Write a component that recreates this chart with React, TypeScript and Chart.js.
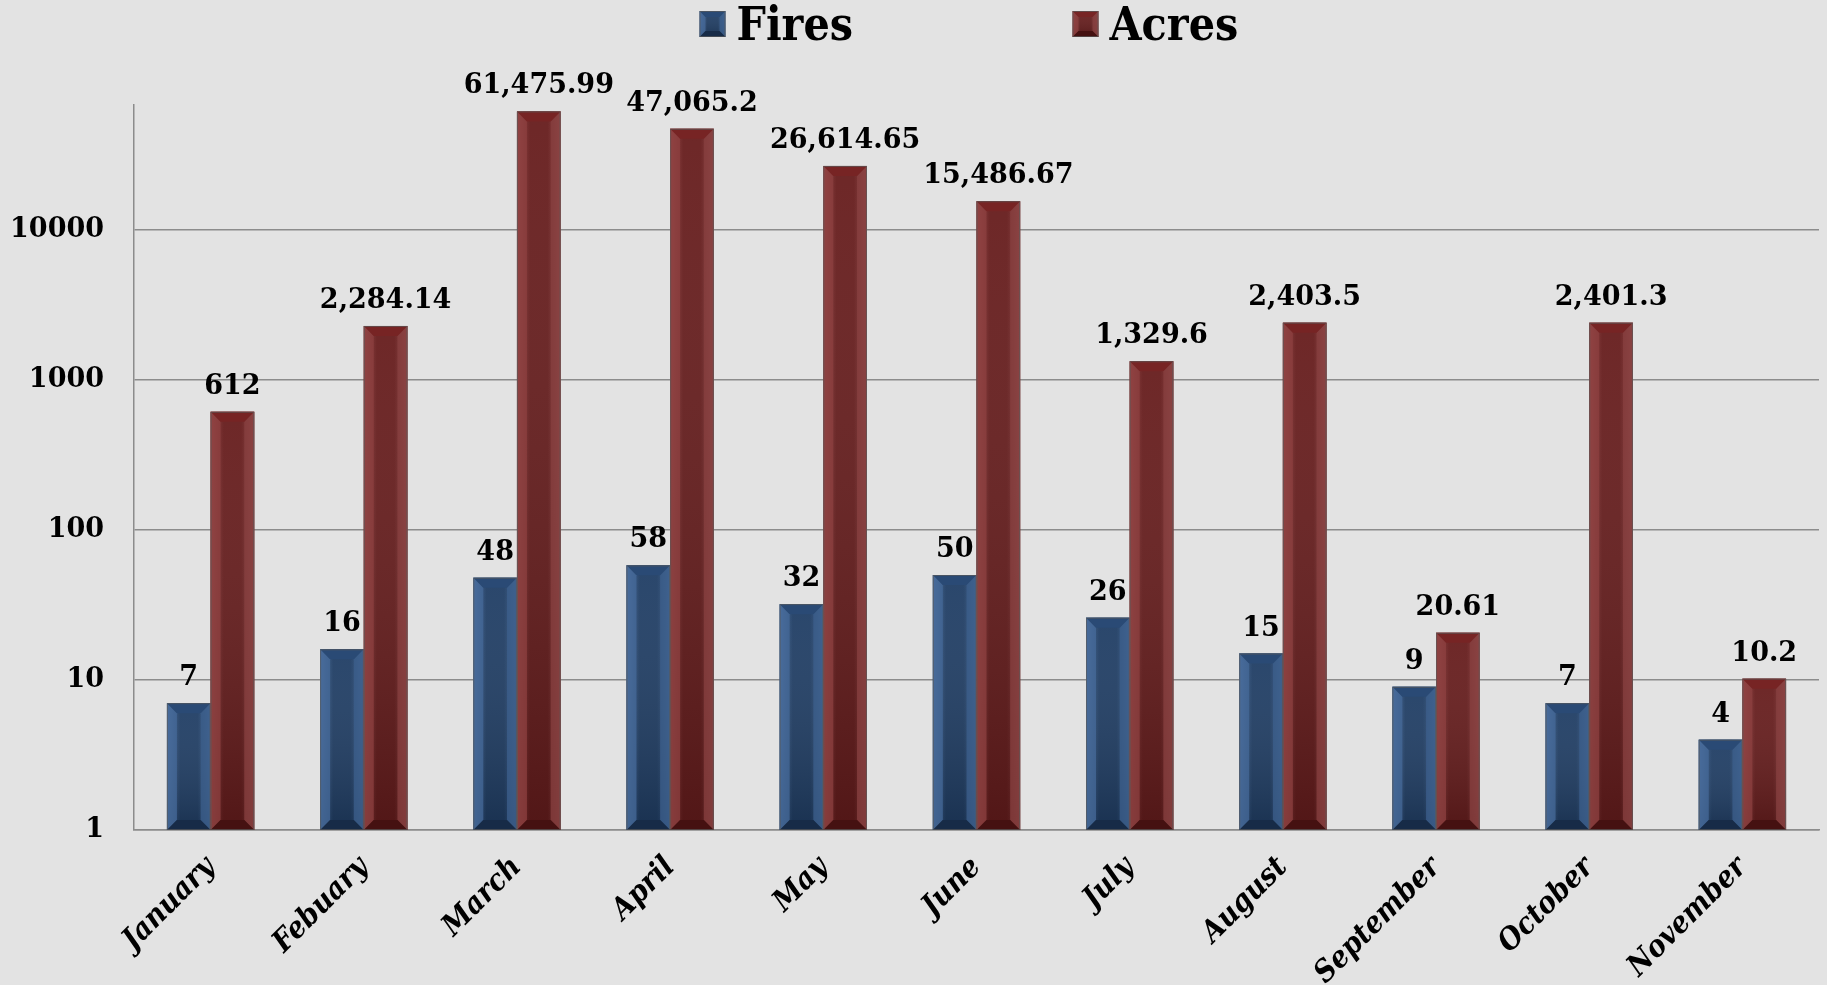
import React, { useEffect, useRef } from 'react';
import { Chart, registerables } from 'chart.js';

Chart.register(...registerables);

// ---- data ----
const months = ['January', 'Febuary', 'March', 'April', 'May', 'June', 'July', 'August', 'September', 'October', 'November'];
const fires = [7, 16, 48, 58, 32, 50, 26, 15, 9, 7, 4];
const acres = [612, 2284.14, 61475.99, 47065.2, 26614.65, 15486.67, 1329.6, 2403.5, 20.61, 2401.3, 10.2];
const yTicks = [1, 10, 100, 1000, 10000];
const seriesNames = ['Fires', 'Acres'];

// ---- styles ----
const SERIF = '"DejaVu Serif", serif';
const SERIF_COND = '"DejaVu Serif Condensed", "DejaVu Serif", serif';
const palette = [
  { base: '#1f3d64', edgeL: '#466a99', edgeR: '#3c5f8c', top: '#2a4a75', bottom: '#172b47' },
  { base: '#661c1c', edgeL: '#8e4040', edgeR: '#884040', top: '#772424', bottom: '#451111' },
];

const fmt = (v: number) => v.toLocaleString('en-US', { maximumFractionDigits: 2 });

function drawBevelBox(ctx: CanvasRenderingContext2D, l: number, t: number, r: number, b: number, d: number, p: any) {
  const w = r - l;
  const g = ctx.createLinearGradient(l, 0, r, 0);
  g.addColorStop(0, p.edgeL);
  g.addColorStop(0.3, p.base);
  g.addColorStop(0.7, p.base);
  g.addColorStop(1, p.edgeR);
  ctx.fillStyle = g;
  ctx.fillRect(l, t, w, b - t);
  const gv = ctx.createLinearGradient(0, t, 0, b);
  gv.addColorStop(0, 'rgba(255,255,255,0.05)');
  gv.addColorStop(1, 'rgba(0,0,0,0.2)');
  ctx.fillStyle = gv;
  ctx.fillRect(l, t, w, b - t);
  // side strips
  ctx.globalAlpha = 0.75;
  ctx.fillStyle = p.edgeL;
  ctx.beginPath();
  ctx.moveTo(l, t); ctx.lineTo(l + d, t + d); ctx.lineTo(l + d, b - d); ctx.lineTo(l, b); ctx.closePath();
  ctx.fill();
  ctx.fillStyle = p.edgeR;
  ctx.beginPath();
  ctx.moveTo(r, t); ctx.lineTo(r - d, t + d); ctx.lineTo(r - d, b - d); ctx.lineTo(r, b); ctx.closePath();
  ctx.fill();
  ctx.globalAlpha = 1;
  // top
  ctx.fillStyle = p.top;
  ctx.beginPath();
  ctx.moveTo(l, t); ctx.lineTo(r, t); ctx.lineTo(r - d, t + d); ctx.lineTo(l + d, t + d); ctx.closePath();
  ctx.fill();
  // bottom
  ctx.fillStyle = p.bottom;
  ctx.beginPath();
  ctx.moveTo(l, b); ctx.lineTo(r, b); ctx.lineTo(r - d, b - d); ctx.lineTo(l + d, b - d); ctx.closePath();
  ctx.fill();
  ctx.strokeStyle = 'rgba(90,90,90,0.7)';
  ctx.lineWidth = 1;
  ctx.strokeRect(l + 0.5, t + 0.5, w - 1, b - t - 1);
}

const bevelPlugin = {
  id: 'bevelBars',
  afterDatasetsDraw(chart: any) {
    const ctx: CanvasRenderingContext2D = chart.ctx;
    ctx.save();
    chart.data.datasets.forEach((ds: any, di: number) => {
      const meta = chart.getDatasetMeta(di);
      meta.data.forEach((bar: any, i: number) => {
        const { x, y, base, width } = bar.getProps(['x', 'y', 'base', 'width'], true);
        const l = x - width / 2, r = x + width / 2;
        const t = Math.min(y, base), b = Math.max(y, base);
        const d = Math.min(10, (b - t) / 2, width / 2);
        drawBevelBox(ctx, l, t, r, b, d, palette[di]);
        ctx.fillStyle = '#000';
        ctx.font = `bold 27px ${SERIF}`;
        ctx.textAlign = 'center';
        ctx.textBaseline = 'alphabetic';
        ctx.fillText(fmt(ds.data[i]), x, t - 18);
      });
    });
    ctx.restore();
  },
  afterDraw(chart: any) {
    const ctx: CanvasRenderingContext2D = chart.ctx;
    ctx.save();
    const cx = chart.width / 2;
    const boxX = [cx - 214, cx + 159];
    seriesNames.forEach((name, i) => {
      const bx = boxX[i];
      drawBevelBox(ctx, bx, 11, bx + 26, 37, 6, palette[i]);
      ctx.fillStyle = '#000';
      ctx.font = `bold 46px ${SERIF_COND}`;
      ctx.textAlign = 'left';
      ctx.textBaseline = 'alphabetic';
      ctx.fillText(name, bx + 37, 40);
    });
    ctx.restore();
  },
};

export default function App() {
  const ref = useRef<HTMLCanvasElement | null>(null);
  useEffect(() => {
    document.body.style.margin = '0';
    const chart = new Chart(ref.current as HTMLCanvasElement, {
      type: 'bar',
      data: {
        labels: months,
        datasets: [
          { label: seriesNames[0], data: fires, backgroundColor: palette[0].base, borderWidth: 0 },
          { label: seriesNames[1], data: acres, backgroundColor: palette[1].base, borderWidth: 0 },
        ],
      },
      options: {
        animation: false,
        responsive: true,
        maintainAspectRatio: false,
        layout: { padding: { top: 105, right: 8, left: 0, bottom: 0 } },
        datasets: { bar: { categoryPercentage: 0.57, barPercentage: 1 } },
        plugins: {
          legend: { display: false },
          tooltip: { enabled: false },
        },
        scales: {
          x: {
            grid: { display: false, drawTicks: false },
            border: { color: '#8c8c8c', width: 1.5 },
            ticks: {
              autoSkip: false,
              minRotation: 45,
              maxRotation: 45,
              padding: 20,
              color: '#000',
              font: { family: SERIF_COND, size: 30, weight: 'bold', style: 'italic' },
            },
            afterFit: (s: any) => { s.height = 155; },
          },
          y: {
            type: 'logarithmic',
            min: 1,
            max: 67800,
            afterBuildTicks: (s: any) => { s.ticks = yTicks.map((v) => ({ value: v })); },
            grid: { color: '#8c8c8c', lineWidth: 1.5, drawTicks: false },
            border: { color: '#8c8c8c', width: 1.5 },
            ticks: {
              padding: 30,
              color: '#000',
              font: { family: SERIF, size: 27, weight: 'bold' },
              callback: (v: any) => String(v),
            },
            afterFit: (s: any) => { s.width = 134; },
          },
        },
      },
      plugins: [bevelPlugin],
    });
    return () => chart.destroy();
  }, []);
  return (
    <div style={{ position: 'fixed', left: 0, top: 0, width: 1827, height: 985, background: '#e3e3e3' }}>
      <canvas ref={ref} />
    </div>
  );
}
